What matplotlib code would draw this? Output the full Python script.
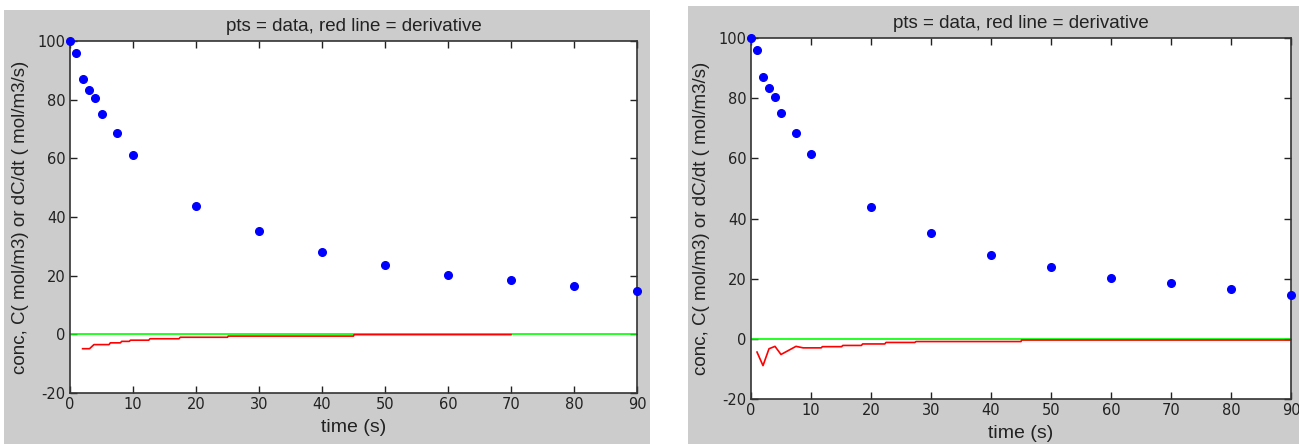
import matplotlib.pyplot as plt
from matplotlib.patches import Rectangle

plt.rcParams['axes.unicode_minus'] = False

# measured concentration data (same for both panels)
time_s = [0, 1, 2, 3, 4, 5, 7.5, 10, 20, 30, 40, 50, 60, 70, 80, 90]
conc = [100, 96.0, 87.2, 83.3, 80.5, 75.2, 68.5, 61.3, 43.7, 35.2, 27.9, 23.8, 20.3, 18.4, 16.6, 14.7]

# derivative curves
deriv_t_left = [2, 3.1, 3.8, 6.2, 6.4, 8.0, 8.2, 9.4, 9.6, 12.5, 12.7, 17.3, 17.5,
                25, 25.1, 45, 45.1, 70]
deriv_left = [-4.9, -4.9, -3.5, -3.5, -2.9, -2.9, -2.4, -2.4, -2.0, -2.0, -1.5, -1.5, -1.0,
              -1.0, -0.6, -0.6, -0.1, -0.1]

deriv_t_right = [1, 2, 3, 4, 5, 7.5, 8.7, 11.7, 11.9, 15.1, 15.3, 18.4, 18.6,
                 22.3, 22.5, 27.3, 27.5, 45, 45.1, 90]
deriv_right = [-4.4, -8.9, -3.3, -2.5, -5.2, -2.5, -3.0, -3.0, -2.6, -2.6, -2.2, -2.2, -1.7,
               -1.7, -1.2, -1.2, -0.9, -0.9, -0.4, -0.4]

W, H = 1299, 444
TICK_FONT = ['Liberation Sans Narrow', 'DejaVu Sans']
LABEL_FONT = ['Liberation Sans', 'DejaVu Sans']


def draw_panel(fig, bg_px, ax_px, d_t, d_v):
    # grey matlab-style figure background behind the axes
    x0, y0, x1, y1 = bg_px
    fig.patches.append(Rectangle((x0 / W, 1 - y1 / H), (x1 - x0) / W, (y1 - y0) / H,
                                 transform=fig.transFigure, facecolor='#cccccc',
                                 edgecolor='none', zorder=-10))
    l, t, r, b = ax_px
    ax = fig.add_axes([l / W, 1 - b / H, (r - l) / W, (b - t) / H])
    ax.plot([0, 90], [0, 0], color='#00ff00', lw=1.2)
    ax.plot(d_t, d_v, color='#ff0000', lw=1.2)
    ax.plot(time_s, conc, 'o', color='#0000ff', ms=5.5, clip_on=False, zorder=5)
    ax.set_xlim(0, 90)
    ax.set_ylim(-20, 100)
    ax.set_xticks(range(0, 91, 10))
    ax.set_yticks(range(-20, 101, 20))
    ax.tick_params(direction='in', top=True, right=True, length=5, width=1,
                   labelsize=10.5, colors='#222222', pad=3)
    for lab in ax.get_xticklabels() + ax.get_yticklabels():
        lab.set_family(TICK_FONT)
    for s in ax.spines.values():
        s.set_linewidth(1.2)
        s.set_color('#333333')
    ax.set_title('pts = data, red line = derivative', fontsize=13.5, family=LABEL_FONT,
                 color='#222222', pad=7)
    ax.set_xlabel('time (s)', fontsize=14, family=LABEL_FONT, color='#222222', labelpad=5)
    ax.set_ylabel('conc, C( mol/m3) or dC/dt ( mol/m3/s)', fontsize=13.5,
                  family=LABEL_FONT, color='#222222', labelpad=6)
    return ax


fig = plt.figure(figsize=(W / 100, H / 100), dpi=100)
fig.patch.set_facecolor('white')

draw_panel(fig, (4, 10, 650, 444), (70, 41, 637, 393), deriv_t_left, deriv_left)
draw_panel(fig, (688, 6, 1299, 444), (751, 38, 1291, 399), deriv_t_right, deriv_right)

fig.savefig('out.png', dpi=100)
